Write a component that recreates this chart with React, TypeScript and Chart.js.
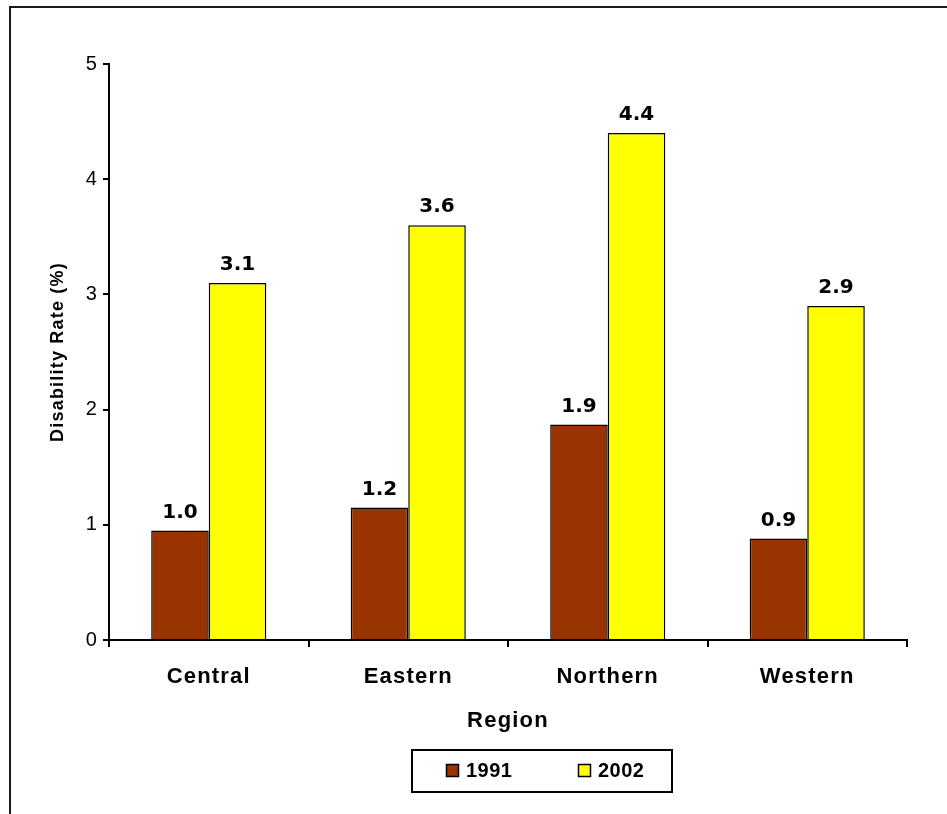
import React, { useEffect, useRef } from 'react';
import { Chart, registerables } from 'chart.js';

Chart.register(...registerables);

const regions = ['Central', 'Eastern', 'Northern', 'Western'];
const rate1991 = [0.95, 1.15, 1.87, 0.88];
const rate2002 = [3.1, 3.6, 4.4, 2.9];
const seriesNames = ['1991', '2002'];
const seriesColors = ['#993300', '#FFFF00'];
const yMin = 0;
const yMax = 5;
const yStep = 1;
const xTitle = 'Region';
const yTitle = 'Disability Rate (%)';

const SANS = "'Liberation Sans', Arial, sans-serif";

const stylePlugin = {
  id: 'excelStyle',
  beforeDraw(chart: any) {
    chart.ctx.letterSpacing = '1.2px';
  },
  beforeDatasetsDraw(chart: any) {
    chart.ctx.letterSpacing = '0px';
  },
  afterDatasetsDraw(chart: any) {
    const ctx = chart.ctx;
    ctx.save();
    ctx.letterSpacing = '0px';
    ctx.font = "bold 20px 'DejaVu Sans', Verdana, sans-serif";
    ctx.fillStyle = '#000';
    ctx.textAlign = 'center';
    ctx.textBaseline = 'alphabetic';
    chart.data.datasets.forEach((ds: any, i: number) => {
      const meta = chart.getDatasetMeta(i);
      meta.data.forEach((el: any, j: number) => {
        const v = ds.data[j] as number;
        ctx.fillText((v + 1e-9).toFixed(1), el.x, el.y - 13);
      });
    });
    ctx.restore();
  },
  afterDraw(chart: any) {
    const ctx = chart.ctx;
    ctx.save();
    ctx.letterSpacing = '0px';
    // outer frame
    ctx.strokeStyle = '#1a1a1a';
    ctx.lineWidth = 2;
    ctx.strokeRect(10, 7, 1200, 1200);
    // legend box
    ctx.strokeStyle = '#000';
    ctx.lineWidth = 2;
    ctx.strokeRect(412, 750, 260, 42);
    const starts = [446, 578];
    ctx.font = `bold 20px ${SANS}`;
    ctx.letterSpacing = '0.5px';
    ctx.textAlign = 'left';
    ctx.textBaseline = 'middle';
    chart.data.datasets.forEach((ds: any, i: number) => {
      const x = starts[i];
      ctx.fillStyle = ds.backgroundColor;
      ctx.fillRect(x, 764, 12, 12);
      ctx.lineWidth = 1.5;
      ctx.strokeStyle = '#000';
      ctx.strokeRect(x + 0.5, 764.5, 12, 12);
      ctx.fillStyle = '#000';
      ctx.fillText(ds.label, x + 20, 771);
    });
    ctx.restore();
  },
};

export default function App() {
  const ref = useRef<HTMLCanvasElement>(null);
  useEffect(() => {
    const chart = new Chart(ref.current as HTMLCanvasElement, {
      type: 'bar',
      data: {
        labels: regions,
        datasets: [
          {
            label: seriesNames[0],
            data: rate1991,
            backgroundColor: seriesColors[0],
            borderColor: '#000',
            borderWidth: 1.5,
          },
          {
            label: seriesNames[1],
            data: rate2002,
            backgroundColor: seriesColors[1],
            borderColor: '#000',
            borderWidth: 1.5,
          },
        ],
      },
      options: {
        responsive: false,
        animation: false,
        devicePixelRatio: 1,
        layout: { padding: { top: 64, right: 40, left: 0, bottom: 0 } },
        datasets: { bar: { categoryPercentage: 0.577, barPercentage: 1.0 } },
        plugins: {
          legend: { display: false },
          tooltip: { enabled: false },
        },
        scales: {
          x: {
            afterFit(scale: any) {
              scale.height = 174;
            },
            grid: {
              display: true,
              drawOnChartArea: false,
              drawTicks: true,
              tickLength: 7,
              color: '#000',
              lineWidth: 2,
              offset: true,
            },
            border: { display: true, color: '#000', width: 2 },
            ticks: {
              color: '#000',
              font: { family: SANS, size: 22, weight: 'bold' },
              padding: 17,
              maxRotation: 0,
            },
            title: {
              display: true,
              text: xTitle,
              color: '#000',
              font: { family: SANS, size: 22, weight: 'bold' },
              padding: { top: 0, bottom: 80 },
            },
          },
          y: {
            min: yMin,
            max: yMax,
            afterFit(scale: any) {
              scale.width = 109;
            },
            grid: {
              display: true,
              drawOnChartArea: false,
              drawTicks: true,
              tickLength: 6,
              color: '#000',
              lineWidth: 2,
            },
            border: { display: true, color: '#000', width: 2 },
            ticks: {
              stepSize: yStep,
              color: '#000',
              font: { family: SANS, size: 20 },
              padding: 5,
            },
            title: {
              display: true,
              text: yTitle,
              color: '#000',
              font: { family: SANS, size: 18, weight: 'bold' },
              padding: { top: 47, bottom: 0 },
            },
          },
        },
      },
      plugins: [stylePlugin],
    } as any);
    return () => chart.destroy();
  }, []);
  return (
    <div style={{ position: 'fixed', left: 0, top: 0, width: 947, height: 814, background: '#fff' }}>
      <canvas ref={ref} width={947} height={814} style={{ display: 'block' }} />
    </div>
  );
}
